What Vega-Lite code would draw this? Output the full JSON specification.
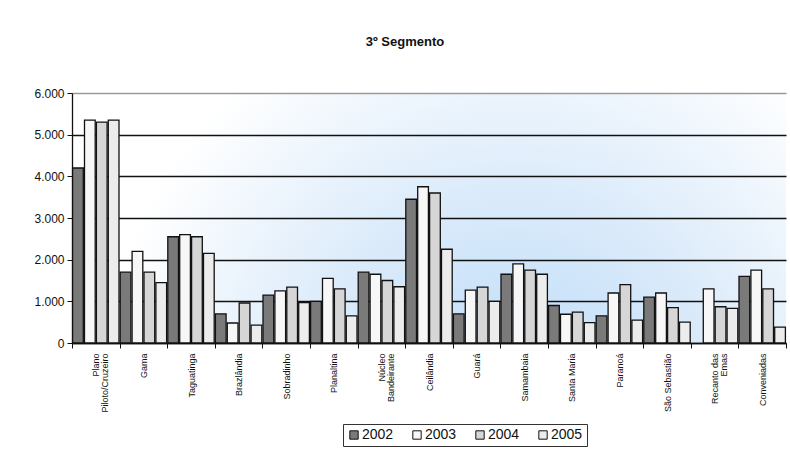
{
  "$schema": "https://vega.github.io/schema/vega-lite/v6.json",
  "width": 714,
  "height": 250,
  "autosize": {"type": "none"},
  "padding": {"left": 72, "top": 93, "right": 4, "bottom": 119},
  "background": "white",
  "title": {
    "text": "3º Segmento",
    "font": "Liberation Sans",
    "fontSize": 13,
    "fontWeight": "bold",
    "color": "#111111",
    "anchor": "middle",
    "offset": 38,
    "dx": -24
  },
  "data": {
    "values": [
      {"r": "Plano Piloto/Cruzeiro", "ano": "2002", "v": 4200},
      {"r": "Plano Piloto/Cruzeiro", "ano": "2003", "v": 5350},
      {"r": "Plano Piloto/Cruzeiro", "ano": "2004", "v": 5300},
      {"r": "Plano Piloto/Cruzeiro", "ano": "2005", "v": 5350},
      {"r": "Gama", "ano": "2002", "v": 1700},
      {"r": "Gama", "ano": "2003", "v": 2200},
      {"r": "Gama", "ano": "2004", "v": 1700},
      {"r": "Gama", "ano": "2005", "v": 1450},
      {"r": "Taguatinga", "ano": "2002", "v": 2550},
      {"r": "Taguatinga", "ano": "2003", "v": 2600},
      {"r": "Taguatinga", "ano": "2004", "v": 2550},
      {"r": "Taguatinga", "ano": "2005", "v": 2150},
      {"r": "Brazlândia", "ano": "2002", "v": 700},
      {"r": "Brazlândia", "ano": "2003", "v": 480},
      {"r": "Brazlândia", "ano": "2004", "v": 960},
      {"r": "Brazlândia", "ano": "2005", "v": 430},
      {"r": "Sobradinho", "ano": "2002", "v": 1150},
      {"r": "Sobradinho", "ano": "2003", "v": 1250},
      {"r": "Sobradinho", "ano": "2004", "v": 1340},
      {"r": "Sobradinho", "ano": "2005", "v": 970},
      {"r": "Planaltina", "ano": "2002", "v": 1000},
      {"r": "Planaltina", "ano": "2003", "v": 1550},
      {"r": "Planaltina", "ano": "2004", "v": 1300},
      {"r": "Planaltina", "ano": "2005", "v": 650},
      {"r": "Núcleo Bandeirante", "ano": "2002", "v": 1700},
      {"r": "Núcleo Bandeirante", "ano": "2003", "v": 1650},
      {"r": "Núcleo Bandeirante", "ano": "2004", "v": 1500},
      {"r": "Núcleo Bandeirante", "ano": "2005", "v": 1350},
      {"r": "Ceilândia", "ano": "2002", "v": 3450},
      {"r": "Ceilândia", "ano": "2003", "v": 3750},
      {"r": "Ceilândia", "ano": "2004", "v": 3600},
      {"r": "Ceilândia", "ano": "2005", "v": 2250},
      {"r": "Guará", "ano": "2002", "v": 700},
      {"r": "Guará", "ano": "2003", "v": 1270},
      {"r": "Guará", "ano": "2004", "v": 1340},
      {"r": "Guará", "ano": "2005", "v": 1000},
      {"r": "Samambaia", "ano": "2002", "v": 1650},
      {"r": "Samambaia", "ano": "2003", "v": 1900},
      {"r": "Samambaia", "ano": "2004", "v": 1750},
      {"r": "Samambaia", "ano": "2005", "v": 1650},
      {"r": "Santa Maria", "ano": "2002", "v": 900},
      {"r": "Santa Maria", "ano": "2003", "v": 690},
      {"r": "Santa Maria", "ano": "2004", "v": 740},
      {"r": "Santa Maria", "ano": "2005", "v": 490},
      {"r": "Paranoá", "ano": "2002", "v": 650},
      {"r": "Paranoá", "ano": "2003", "v": 1200},
      {"r": "Paranoá", "ano": "2004", "v": 1400},
      {"r": "Paranoá", "ano": "2005", "v": 550},
      {"r": "São Sebastião", "ano": "2002", "v": 1100},
      {"r": "São Sebastião", "ano": "2003", "v": 1200},
      {"r": "São Sebastião", "ano": "2004", "v": 850},
      {"r": "São Sebastião", "ano": "2005", "v": 500},
      {"r": "Recanto das Emas", "ano": "2003", "v": 1300},
      {"r": "Recanto das Emas", "ano": "2004", "v": 870},
      {"r": "Recanto das Emas", "ano": "2005", "v": 830},
      {"r": "Conveniadas", "ano": "2002", "v": 1600},
      {"r": "Conveniadas", "ano": "2003", "v": 1750},
      {"r": "Conveniadas", "ano": "2004", "v": 1300},
      {"r": "Conveniadas", "ano": "2005", "v": 380}
    ]
  },
  "mark": {"type": "bar", "stroke": "#111111", "strokeWidth": 1.3},
  "encoding": {
    "x": {
      "field": "r",
      "type": "nominal",
      "sort": null,
      "scale": {"paddingInner": 0, "paddingOuter": 0},
      "axis": {
        "title": null,
        "labelAngle": -90,
        "labelAlign": "right",
        "labelBaseline": "middle",
        "labelFont": "Liberation Sans",
        "labelFontSize": 9,
        "labelColor": "#111111",
        "labelPadding": 5,
        "labelLineHeight": 9,
        "tickBand": "extent",
        "tickSize": 5,
        "tickColor": "#111111",
        "domainColor": "#111111",
        "domainWidth": 1.3,
        "labelExpr": "datum.label == 'Plano Piloto/Cruzeiro' ? ['Plano', 'Piloto/Cruzeiro'] : datum.label == 'Núcleo Bandeirante' ? ['Núcleo', 'Bandeirante'] : datum.label == 'Recanto das Emas' ? ['Recanto das', 'Emas'] : datum.label"
      }
    },
    "xOffset": {
      "field": "ano",
      "type": "nominal",
      "scale": {"paddingInner": 0.1, "paddingOuter": 0.05}
    },
    "y": {
      "field": "v",
      "type": "quantitative",
      "scale": {"domain": [0, 6000]},
      "axis": {
        "title": null,
        "values": [0, 1000, 2000, 3000, 4000, 5000, 6000],
        "labelExpr": "replace(format(datum.value, ','), ',', '.')",
        "labelFont": "Liberation Sans",
        "labelFontSize": 12,
        "labelColor": "#111111",
        "labelPadding": 3,
        "tickSize": 5,
        "tickColor": "#111111",
        "domainColor": "#111111",
        "domainWidth": 1.3,
        "grid": true,
        "gridColor": {"condition": {"test": "datum.value == 6000", "value": "#9a9a9a"}, "value": "#111111"},
        "gridWidth": 1.3
      }
    },
    "color": {
      "field": "ano",
      "type": "nominal",
      "scale": {
        "domain": ["2002", "2003", "2004", "2005"],
        "range": ["#7a7a7a", "#f7f7f7", "#d6d6d6", "#ececec"]
      },
      "legend": {
        "title": null,
        "orient": "none",
        "legendX": 271,
        "legendY": 331,
        "direction": "horizontal",
        "columns": 4,
        "symbolType": "square",
        "symbolSize": 70,
        "symbolStrokeColor": "#111111",
        "symbolStrokeWidth": 1,
        "labelFont": "Liberation Sans",
        "labelFontSize": 14,
        "labelColor": "#111111",
        "labelOffset": 1,
        "columnPadding": 16,
        "padding": 4,
        "strokeColor": "#333333",
        "fillColor": "white"
      }
    }
  },
  "config": {
    "view": {
      "stroke": null,
      "fill": {
        "gradient": "radial",
        "x1": 0.62, "y1": 0.75, "r1": 0,
        "x2": 0.62, "y2": 0.75, "r2": 0.58,
        "stops": [
          {"offset": 0, "color": "#bcdcfa"},
          {"offset": 0.45, "color": "#d8e9fa"},
          {"offset": 1, "color": "#ffffff"}
        ]
      }
    }
  }
}
